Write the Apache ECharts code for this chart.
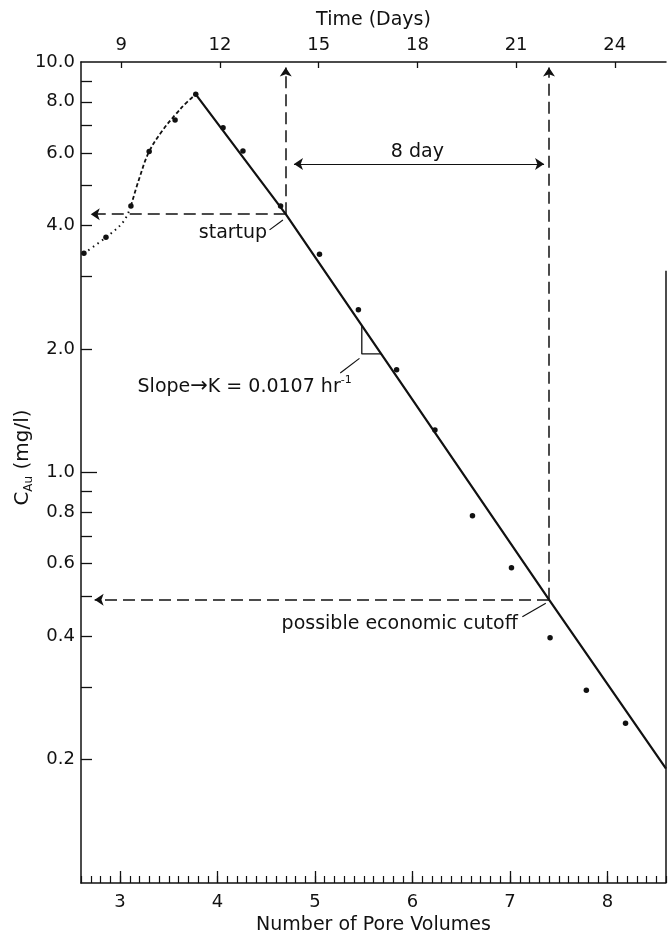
<!DOCTYPE html>
<html>
<head>
<meta charset="utf-8">
<script src="https://cdn.jsdelivr.net/npm/echarts@6/dist/echarts.min.js"></script>
<style>
  html, body { margin: 0; padding: 0; background: #fff; }
  #chart { width: 669px; height: 931px; }
</style>
</head>
<body>
<div id="chart"></div>
<script>
// Gold concentration in the leachate against pore volumes flushed
const poreVolumes = [2.63, 2.856, 3.112, 3.299, 3.565, 3.777, 4.057, 4.261, 4.647, 5.046, 5.445, 5.837, 6.230, 6.615, 7.015, 7.411, 7.783, 8.185];
const concAu      = [3.42, 3.74, 4.46, 6.05, 7.22, 8.34, 6.92, 6.07, 4.46, 3.40, 2.49, 1.78, 1.27, 0.785, 0.586, 0.396, 0.295, 0.245];

// hand-drawn rise up to the peak (dotted, then short dashes)
const riseLowPV  = [2.631, 2.856, 3.033, 3.112];
const riseLowC   = [3.42, 3.74, 4.08, 4.46];
const riseHighPV = [3.112, 3.204, 3.299, 3.426, 3.565, 3.682, 3.777];
const riseHighC  = [4.46, 5.26, 6.05, 6.76, 7.43, 7.96, 8.34];

// first-order decline after the peak
const declinePV = [3.777, 4.70, 7.40, 8.60];
const declineC  = [8.34, 4.26, 0.49, 0.19];

// slope triangle and label leaders
const slopeTriPV = [5.48, 5.48, 5.68];
const slopeTriC  = [2.28, 1.945, 1.945];
const slopeLeaderPV = [5.456, 5.259];
const slopeLeaderC  = [1.897, 1.748];
const startupLeaderPV = [4.534, 4.671];
const startupLeaderC  = [3.90, 4.12];
const cutoffLeaderPV = [7.127, 7.367];
const cutoffLeaderC  = [0.4455, 0.480];

// startup and economic cutoff
const startupDay = 14, cutoffDay = 22;
const startupPV = 4.70, cutoffPV = 7.40;
const startupC = 4.26, cutoffC = 0.49;
const spanArrowC = 5.64;

// axes
const pvMin = 2.6, pvMax = 8.6;
const pvTicks = [3, 4, 5, 6, 7, 8];
const dayTicks = [9, 12, 15, 18, 21, 24];
const concMin = 0.1, concMax = 10;
const concLabels = [0.2, 0.4, 0.6, 0.8, 1, 2, 4, 6, 8, 10];
const concTicks  = [0.2, 0.3, 0.4, 0.5, 0.6, 0.7, 0.8, 0.9, 2, 3, 4, 5, 6, 7, 8, 9];

const zip = (xs, ys) => xs.map((x, i) => [x, ys[i]]);

// top time axis shares the pore-volume scale: startup..cutoff spans 8 days
const daysPerPV = (cutoffDay - startupDay) / (cutoffPV - startupPV);
const dayMin = startupDay - (startupPV - pvMin) * daysPerPV;
const dayMax = startupDay + (pvMax - startupPV) * daysPerPV;

const INK = '#111';
const FONT = '"DejaVu Sans", "Liberation Sans", Arial, sans-serif';
const TICK_FS = 18;
const TEXT_FS = 19;

const chart = echarts.init(document.getElementById('chart'), null, { renderer: 'canvas' });

const arrowDash = { color: INK, width: 1.5, type: [12, 6] };
const txt = (extra) => Object.assign({ fontFamily: FONT, color: INK, fontSize: TEXT_FS }, extra || {});

chart.setOption({
  animation: false,
  backgroundColor: '#fff',
  textStyle: { fontFamily: FONT, color: INK },
  grid: { left: 81, right: 3, top: 62, bottom: 48, outerBoundsMode: 'none', containLabel: false },
  xAxis: [
    { // minor ticks every 0.1 pore volume
      type: 'value', position: 'bottom', min: pvMin, max: pvMax, interval: 0.1,
      axisLine: { show: true, lineStyle: { color: INK, width: 1.5 } },
      axisTick: { show: true, inside: true, length: 7, lineStyle: { color: INK, width: 1.2 } },
      axisLabel: { show: false }, splitLine: { show: false }
    },
    { // labelled whole pore volumes
      type: 'value', position: 'bottom', min: pvMin, max: pvMax,
      axisLine: { show: false },
      axisTick: { show: true, inside: true, length: 12, customValues: pvTicks, lineStyle: { color: INK, width: 1.3 } },
      axisLabel: { show: true, customValues: pvTicks, fontSize: TICK_FS, color: INK, margin: 10, fontFamily: FONT },
      splitLine: { show: false },
      name: 'Number of Pore Volumes', nameLocation: 'middle', nameGap: 33, nameMoveOverlap: false,
      nameTextStyle: txt()
    },
    { // elapsed time
      type: 'value', position: 'top', min: dayMin, max: dayMax,
      axisLine: { show: true, lineStyle: { color: INK, width: 1.5 } },
      axisTick: { show: true, inside: true, length: 6, customValues: dayTicks, lineStyle: { color: INK, width: 1.3 } },
      axisLabel: { show: true, customValues: dayTicks, fontSize: TICK_FS, color: INK, margin: 8, fontFamily: FONT },
      splitLine: { show: false },
      name: 'Time (Days)', nameLocation: 'middle', nameGap: 32, nameMoveOverlap: false,
      nameTextStyle: txt()
    }
  ],
  yAxis: [
    {
      type: 'log', logBase: 10, min: concMin, max: concMax, position: 'left',
      axisLine: { show: true, lineStyle: { color: INK, width: 1.5 } },
      axisTick: { show: true, inside: true, length: 11, customValues: concTicks, lineStyle: { color: INK, width: 1.3 } },
      axisLabel: {
        show: true, customValues: concLabels, fontSize: TICK_FS, color: INK, margin: 6, fontFamily: FONT,
        formatter: v => Number(v).toFixed(1)
      },
      splitLine: { show: false }, minorTick: { show: false },
      name: '{c|C}{sub|Au}{n| (mg/l)}', nameLocation: 'middle', nameRotate: 90, nameGap: 46,
      nameMoveOverlap: false,
      nameTextStyle: {
        fontFamily: FONT, color: INK, padding: [0, 0, 0, 30],
        rich: {
          c: { fontSize: 20, lineHeight: 24, fontFamily: FONT, color: INK },
          sub: { fontSize: 12, verticalAlign: 'bottom', lineHeight: 15, fontFamily: FONT, color: INK },
          n: { fontSize: 20, lineHeight: 24, fontFamily: FONT, color: INK }
        }
      }
    },
    { // longer tick at 1.0
      type: 'log', logBase: 10, min: concMin, max: concMax, position: 'left',
      axisLine: { show: false },
      axisTick: { show: true, inside: true, length: 16, customValues: [1], lineStyle: { color: INK, width: 1.3 } },
      axisLabel: { show: false }, splitLine: { show: false }
    }
  ],
  series: [
    {
      name: 'rise-low', type: 'line', xAxisIndex: 0, yAxisIndex: 0,
      data: zip(riseLowPV, riseLowC), smooth: 0.4, symbol: 'none',
      lineStyle: { color: INK, width: 2, type: [1.5, 4] }
    },
    {
      name: 'rise-high', type: 'line', xAxisIndex: 0, yAxisIndex: 0,
      data: zip(riseHighPV, riseHighC), smooth: 0.4, symbol: 'none',
      lineStyle: { color: INK, width: 1.8, type: [4, 2.5] }
    },
    {
      name: 'decline', type: 'line', xAxisIndex: 0, yAxisIndex: 0,
      data: zip(declinePV, declineC), symbol: 'none',
      lineStyle: { color: INK, width: 2.2 },
      markLine: {
        silent: true, animation: false, label: { show: false },
        symbol: ['none', 'arrow'], symbolSize: 9,
        lineStyle: arrowDash,
        emphasis: { disabled: true },
        data: [
          [{ coord: [startupPV, startupC] }, { coord: [2.70, startupC] }],
          [{ coord: [cutoffPV, cutoffC] }, { coord: [2.74, cutoffC] }],
          [{ coord: [pvMax, concMin], symbol: 'none', lineStyle: { type: 'solid', width: 1.5 } },
           { coord: [pvMax, 3.1], symbol: 'none' }]
        ]
      }
    },
    {
      name: 'slope-triangle', type: 'line', xAxisIndex: 0, yAxisIndex: 0,
      data: zip(slopeTriPV, slopeTriC), symbol: 'none',
      lineStyle: { color: INK, width: 1.3 }
    },
    {
      name: 'slope-leader', type: 'line', xAxisIndex: 0, yAxisIndex: 0,
      data: zip(slopeLeaderPV, slopeLeaderC), symbol: 'none',
      lineStyle: { color: INK, width: 1.2 }
    },
    {
      name: 'startup-leader', type: 'line', xAxisIndex: 0, yAxisIndex: 0,
      data: zip(startupLeaderPV, startupLeaderC), symbol: 'none',
      lineStyle: { color: INK, width: 1.2 }
    },
    {
      name: 'cutoff-leader', type: 'line', xAxisIndex: 0, yAxisIndex: 0,
      data: zip(cutoffLeaderPV, cutoffLeaderC), symbol: 'none',
      lineStyle: { color: INK, width: 1.2 }
    },
    {
      name: 'measured', type: 'scatter', xAxisIndex: 0, yAxisIndex: 0,
      data: zip(poreVolumes, concAu), symbol: 'circle', symbolSize: 5.5,
      itemStyle: { color: INK, opacity: 1 }, z: 5
    },
    { // annotation text on the pore-volume scale
      name: 'notes', type: 'scatter', xAxisIndex: 0, yAxisIndex: 0,
      symbolSize: 0, silent: true, itemStyle: { opacity: 1 },
      data: [
        { value: [4.53, 3.83], label: txt({ show: true, position: 'left', distance: 2, formatter: 'startup' }) },
        { value: [7.10, 0.428], label: txt({ show: true, position: 'left', distance: 2, formatter: 'possible economic cutoff' }) },
        { value: [3.18, 1.615], label: txt({
            show: true, position: 'right', distance: 0,
            formatter: '{a|Slope}{ar|\u2192}{a|K = 0.0107 hr}{s|-1}',
            rich: {
              a: { fontSize: TEXT_FS, lineHeight: 24, fontFamily: FONT, color: INK },
              ar: { fontSize: 21, lineHeight: 24, fontFamily: FONT, color: INK },
              s: { fontSize: 11, verticalAlign: 'top', lineHeight: 14, fontFamily: FONT, color: INK }
            }
          }) }
      ]
    },
    { // day-scale markers: startup / cutoff verticals and the 8-day span
      name: 'days', type: 'scatter', xAxisIndex: 2, yAxisIndex: 0,
      symbolSize: 0, silent: true, itemStyle: { opacity: 1 },
      data: [
        { value: [(startupDay + cutoffDay) / 2, 6.05], label: txt({ show: true, position: 'inside', formatter: '8 day' }) }
      ],
      markLine: {
        silent: true, animation: false, label: { show: false },
        symbol: ['none', 'arrow'], symbolSize: 9,
        lineStyle: arrowDash,
        emphasis: { disabled: true },
        data: [
          [{ coord: [startupDay, startupC] }, { coord: [startupDay, 9.7] }],
          [{ coord: [cutoffDay, cutoffC] }, { coord: [cutoffDay, 9.7] }],
          [{ coord: [14.25, spanArrowC], symbol: 'arrow', lineStyle: { type: 'solid', width: 1.2 } },
           { coord: [21.85, spanArrowC], symbol: 'arrow' }]
        ]
      }
    }
  ]
});
</script>
</body>
</html>
